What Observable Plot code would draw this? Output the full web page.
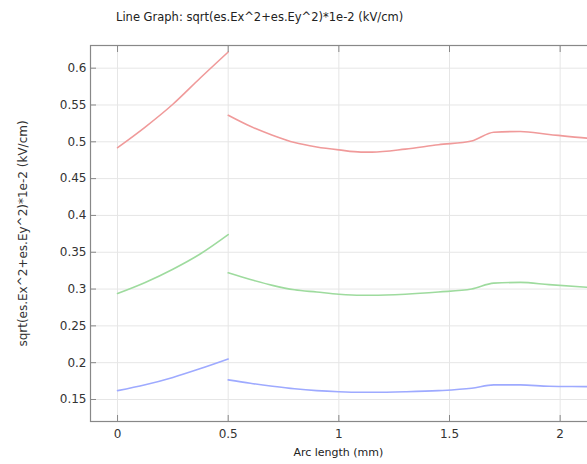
<!DOCTYPE html>
<html>
<head>
<meta charset="utf-8">
<script src="https://cdn.jsdelivr.net/npm/d3@7"></script>
<script src="https://cdn.jsdelivr.net/npm/@observablehq/plot@0.6"></script>
<style>
  html, body { margin: 0; padding: 0; background: #fff; overflow: hidden; }
  #wrap { width: 587px; height: 464px; overflow: hidden; position: relative; }
  #title { height: 30px; box-sizing: border-box; padding: 10px 0 0 116px; font: 11.5px "DejaVu Sans", sans-serif; color: #222; white-space: nowrap; }
  #chart svg { max-width: none !important; }
</style>
</head>
<body>
<div id="wrap">
  <div id="title">Line Graph: sqrt(es.Ex^2+es.Ey^2)*1e-2 (kV/cm)</div>
  <div id="chart"></div>
</div>
<script>
const seriesNames = ["upper", "middle", "lower"];
const seriesColors = ["#f09a9a", "#9edb9e", "#9eaaff"];

// Segment 1 (0 to 0.5 mm)
const x1 = [0, 0.125, 0.25, 0.375, 0.5];
const red1 = [0.492, 0.520, 0.551, 0.587, 0.622];
const green1 = [0.294, 0.309, 0.327, 0.348, 0.374];
const blue1 = [0.162, 0.170, 0.180, 0.192, 0.205];

// Segment 2 (0.5 mm onward)
const x2 = [0.5, 0.6, 0.7, 0.8, 0.9, 1.0, 1.1, 1.15, 1.3, 1.45, 1.6, 1.7, 1.82, 1.95, 2.12, 2.25];
const red2 = [0.536, 0.521, 0.509, 0.499, 0.493, 0.489, 0.486, 0.486, 0.490, 0.496, 0.501, 0.513, 0.514, 0.510, 0.505, 0.502];
const green2 = [0.322, 0.313, 0.305, 0.299, 0.296, 0.293, 0.2915, 0.2915, 0.293, 0.296, 0.300, 0.308, 0.309, 0.306, 0.3025, 0.300];
const blue2 = [0.1766, 0.172, 0.168, 0.1645, 0.162, 0.1605, 0.1598, 0.1598, 0.1605, 0.162, 0.1652, 0.1698, 0.1698, 0.168, 0.1675, 0.167];

const xTicks = [0, 0.5, 1, 1.5, 2];
const yTicks = [0.15, 0.2, 0.25, 0.3, 0.35, 0.4, 0.45, 0.5, 0.55, 0.6];

const seg1 = [red1, green1, blue1];
const seg2 = [red2, green2, blue2];
const data = [];
seriesNames.forEach((s, i) => {
  x1.forEach((x, j) => data.push({series: s, key: s + "1", x, y: seg1[i][j]}));
  x2.forEach((x, j) => data.push({series: s, key: s + "2", x, y: seg2[i][j]}));
});

const font = "DejaVu Sans, sans-serif";
const chart = Plot.plot({
  width: 640,
  height: 434,
  marginLeft: 90,
  marginRight: 30,
  marginTop: 15,
  marginBottom: 43,
  style: {fontFamily: font, fontSize: "12px", color: "#333", background: "#fff", maxWidth: "none"},
  x: {domain: [-0.1222, 2.2275]},
  y: {domain: [0.1201, 0.6308]},
  color: {domain: seriesNames, range: seriesColors},
  marks: [
    Plot.gridX(xTicks, {stroke: "#e6e6e6", strokeOpacity: 1}),
    Plot.gridY(yTicks, {stroke: "#e6e6e6", strokeOpacity: 1}),
    Plot.line(data, {x: "x", y: "y", z: "key", stroke: "series", strokeWidth: 1.6, curve: "monotone-x", clip: true}),
    // tick marks pointing inward
    Plot.axisY(yTicks, {tickSize: 6, dx: 6, text: null, label: null, stroke: "#888"}),
    Plot.axisX(xTicks, {anchor: "bottom", tickSize: 6, dy: -6, text: null, label: null, stroke: "#888"}),
    Plot.axisX(xTicks, {anchor: "top", tickSize: 6, dy: 6, text: null, label: null, stroke: "#888"}),
    // tick labels
    Plot.axisY(yTicks, {tickSize: 0, tickPadding: 4, fontSize: 12, fill: "#333", tickFormat: d => String(d),
      label: "sqrt(es.Ex^2+es.Ey^2)*1e-2 (kV/cm)", labelAnchor: "center", labelArrow: "none", labelOffset: 72}),
    Plot.axisX(xTicks, {anchor: "bottom", tickSize: 0, tickPadding: 8, fontSize: 12, fill: "#333", tickFormat: d => String(d),
      label: null}),
    Plot.frame({stroke: "#888", strokeWidth: 1.2})
  ]
});
document.getElementById("chart").appendChild(chart);

// X-axis title as real text, positioned by the x scale
const xs = chart.scale("x");
const svg = d3.select(chart);
svg.append("text")
  .attr("x", xs.apply(1.0))
  .attr("y", 426)
  .attr("text-anchor", "middle")
  .attr("font-family", font)
  .attr("font-size", "11px")
  .attr("fill", "#222")
  .text("Arc length (mm)");
</script>
</body>
</html>
